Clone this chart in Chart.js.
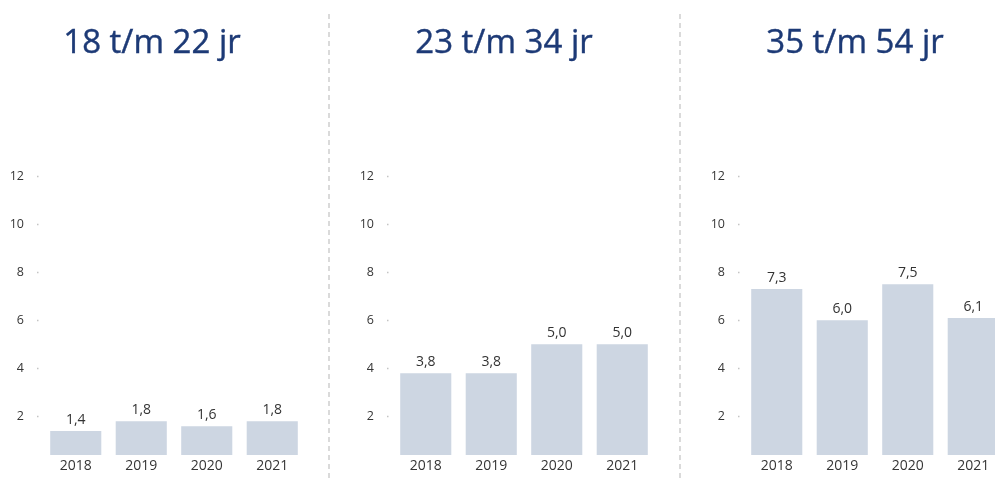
<!DOCTYPE html>
<html>
<head>
<meta charset="utf-8">
<script src="https://cdn.jsdelivr.net/npm/chart.js@4"></script>
<style>
  html, body { margin: 0; padding: 0; background: #fff; overflow: hidden; }
  body { width: 995px; height: 479px; position: relative; font-family: "Open Sans", sans-serif; }
  .title {
    position: absolute; top: 24px; width: 300px; text-align: center;
    font-size: 33px; line-height: 33px; color: #1d3a76; white-space: nowrap;
    -webkit-text-stroke: 0.4px #1d3a76;
  }
  .divider {
    position: absolute; top: 14px; bottom: 0; width: 2px;
    background: repeating-linear-gradient(to bottom, #dadada 0 5px, transparent 5px 9px);
  }
  canvas { position: absolute; top: 0; }
</style>
</head>
<body>
<div class="divider" style="left:328px"></div>
<div class="divider" style="left:679px"></div>
<canvas id="chart1" width="307" height="479" style="left:-2px"></canvas>
<canvas id="chart2" width="307" height="479" style="left:348px"></canvas>
<canvas id="chart3" width="307" height="479" style="left:699px"></canvas>

<script>
var years = ['2018', '2019', '2020', '2021'];
var titles = ['18 t/m 22 jr', '23 t/m 34 jr', '35 t/m 54 jr'];
var age18to22 = [1.4, 1.8, 1.6, 1.8];
var age23to34 = [3.8, 3.8, 5.0, 5.0];
var age35to54 = [7.3, 6.0, 7.5, 6.1];
var yTicks = [2, 4, 6, 8, 10, 12];

var titleCenters = [152, 504, 855];
var textColor = '#363636';

// value above each bar, Dutch decimal comma
var valueLabels = {
    id: 'valueLabels',
    afterDatasetsDraw: function(chart) {
        var ctx = chart.ctx;
        var values = chart.data.datasets[0].data;
        ctx.save();
        ctx.font = '14px "Open Sans"';
        ctx.fillStyle = '#333333';
        ctx.textAlign = 'center';
        ctx.textBaseline = 'alphabetic';
        chart.getDatasetMeta(0).data.forEach(function(bar, i) {
            ctx.fillText(values[i].toFixed(1).replace('.', ','), bar.x, bar.y - 7);
        });
        ctx.restore();
    }
};

function makeChart(id, values) {
    return new Chart(document.getElementById(id), {
        type: 'bar',
        data: {
            labels: years,
            datasets: [{
                data: values,
                backgroundColor: '#cdd6e2',
                borderWidth: 0,
                categoryPercentage: 1,
                barPercentage: 0.78
            }]
        },
        options: {
            responsive: false,
            animation: false,
            layout: { padding: { top: 176, right: 0, bottom: 0, left: 0 } },
            plugins: {
                legend: { display: false },
                tooltip: { enabled: false }
            },
            scales: {
                x: {
                    grid: { display: false, drawTicks: false },
                    border: { display: false },
                    ticks: {
                        color: textColor,
                        padding: 3,
                        font: { family: 'Open Sans', size: 14 }
                    },
                    afterFit: function(scale) { scale.height = 24; }
                },
                y: {
                    min: 0.4,
                    max: 12,
                    border: { display: false },
                    grid: {
                        drawOnChartArea: false,
                        tickLength: 6,
                        tickColor: '#c4c4c4',
                        tickWidth: 1.5,
                        tickBorderDash: [1.5, 20]
                    },
                    ticks: {
                        color: textColor,
                        padding: 13,
                        font: { family: 'Open Sans', size: 12.5 }
                    },
                    afterBuildTicks: function(scale) {
                        scale.ticks = yTicks.map(function(v) { return { value: v }; });
                    },
                    afterFit: function(scale) { scale.width = 45; }
                }
            }
        },
        plugins: [valueLabels]
    });
}

titles.forEach(function(text, i) {
    var div = document.createElement('div');
    div.className = 'title';
    div.textContent = text;
    div.style.left = (titleCenters[i] - 150) + 'px';
    document.body.appendChild(div);
});

makeChart('chart1', age18to22);
makeChart('chart2', age23to34);
makeChart('chart3', age35to54);
</script>
</body>
</html>
